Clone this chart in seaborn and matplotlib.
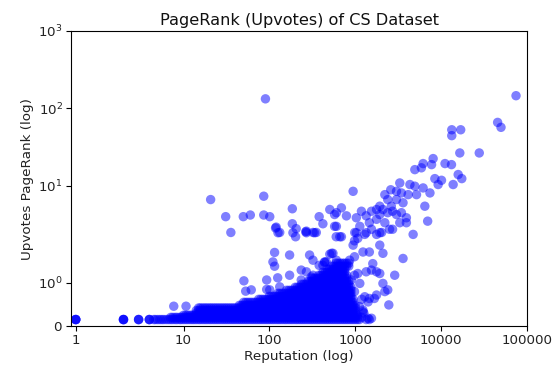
import matplotlib
matplotlib.use("Agg")
import matplotlib.pyplot as plt
import matplotlib.ticker as mticker
import seaborn as sns
import pandas as pd

# ---- data: scattered (readable) points ----
scatter_rep = [1, 1, 1, 1, 2, 2, 2, 2, 3, 3, 3, 4, 4, 4,
    90, 20.7, 86, 31, 49.7, 60, 86, 101, 35.6, 185, 120, 132, 185, 202, 205, 265, 322, 352,
    380, 505, 603, 690, 420, 575, 660, 118, 126, 188, 270, 336,
    115, 110, 172, 294, 115, 50.5, 53, 93, 125, 172, 235, 322, 420, 530, 460, 7.7, 10.7,
    93, 132, 235, 307, 505, 380, 440, 603, 61.5, 101,
    74500, 45500, 49800, 13300, 16900, 13300, 16500, 27800, 8070, 6170, 4940, 11100, 13200,
    7740, 5890, 15800, 17400, 13800, 10100, 9230, 8450, 4940, 4330, 6170, 7410, 5170, 6460,
    6970, 3300, 3450, 4130, 3020, 2590, 2210, 2390, 3020, 3600, 2630, 1930, 1545, 1930, 2390,
    3020, 3940, 3300, 1130, 987, 1070, 1340, 1460, 1290, 1770, 2030, 2210, 2510, 4720, 2720,
    944, 575, 603, 790, 690, 600, 270, 1030, 1180, 1770, 2100, 2720, 3450, 1545, 1770, 3940,
    440, 550, 860, 1070, 1230, 1545, 1930, 2880, 3600, 2390, 2460, 1460, 1290, 1545, 1410,
    1230, 1770, 900, 860, 980, 944, 270, 322,
    1030, 1340, 1930, 980, 1930, 2100, 1460, 1600, 1340, 1770, 2210, 1670, 1410, 1230,
    1460, 1340, 980, 1130, 980, 2100, 1190, 1260, 1120, 1190]
scatter_pr = [0.15, 0.15, 0.15, 0.15, 0.15, 0.15, 0.15, 0.15, 0.15, 0.15, 0.15, 0.15, 0.15, 0.15,
    133, 6.65, 7.35, 4.0, 4.0, 4.2, 4.2, 4.0, 2.5, 5.06, 2.93, 2.5, 3.24, 2.2, 2.8, 2.55, 2.5, 2.5,
    4.0, 4.95, 4.5, 5.2, 3.24, 3.0, 2.2, 2.85, 2.48, 2.48, 2.48, 2.48,
    1.71, 1.49, 1.65, 1.65, 1.39, 1.05, 0.81, 1.07, 1.12, 1.18, 1.3, 1.18, 1.41, 1.69, 1.49, 0.46, 0.46,
    0.85, 0.91, 1.07, 1.14, 1.67, 1.41, 1.48, 1.53, 0.84, 0.84,
    146, 66, 57, 53, 53, 44.5, 26.6, 26.6, 22.5, 19.4, 16.2, 19.4, 18.8,
    18.8, 17.1, 14, 12.4, 10.4, 11.8, 10.4, 12.4, 9.9, 10.4, 9.4, 8.1, 7.7, 5.46,
    3.5, 10.9, 8.1, 7.7, 8.5, 8.9, 7.7, 6.65, 6.65, 6.05, 5.46, 5.46, 4.7, 4.26, 4.5,
    4.26, 3.87, 3.34, 3.0, 2.5, 2.1, 4.1, 3.34, 2.36, 3.7, 2.5, 3.34, 2.75, 2.36, 2.75,
    8.5, 4.26, 3.0, 4.1, 2.2, 2.2, 2.6, 3.87, 4.7, 4.95, 4.95, 4.7, 4.5, 2.75, 2.36, 3.34,
    1.49, 1.69, 1.53, 1.22, 1.72, 1.3, 1.22, 1.18, 1.57, 0.84, 0.49, 0.64, 0.68, 0.18, 0.18,
    0.37, 0.72, 1.07, 0.76, 1.61, 1.88, 1.26, 1.53,
    2.48, 2.48, 2.48, 1.98, 1.88, 1.69, 1.72, 1.45, 1.26, 1.26, 0.8, 0.64, 0.56, 0.33,
    0.15, 0.15, 0.8, 0.99, 1.18, 0.99, 0.2, 0.3, 0.45, 0.62]

# ---- data: dense cluster, read as rows of PageRank level spanning a reputation range ----
cluster_rep = [4.5, 4.7, 5, 5.3, 5.6, 5.9, 6.3, 6.7, 7.1, 7.5, 8, 8.4, 9, 9.4, 10, 10.6, 11.2,
               11.9, 12.6, 13.3, 14.1, 15, 15.8, 16.8, 17.8, 18.8, 20, 21.1, 22.4, 23.7, 25.1,
               26.6, 28.2, 29.9, 31.6, 33.5, 35.5, 37.6, 39.8, 42.2, 44.7, 47.3, 50.1, 53.1,
               56.2, 59.6, 63.1, 66.8, 70.8, 75, 79.4, 84.1, 89.1, 94.4, 100, 106, 112, 119,
               126, 133, 141, 150, 158, 168, 178, 188, 200, 211, 224, 237, 251, 266, 282, 299,
               316, 335, 355, 376, 398, 422, 447, 473, 501, 531, 562, 596, 631, 668, 708, 750,
               794, 841, 891, 944, 1000, 1060, 1120]
cluster_level = [0.15, 0.20, 0.25, 0.30, 0.36, 0.42, 0.48, 0.55, 0.62, 0.69, 0.76,
                 0.83, 0.90, 0.97, 1.04, 1.11, 1.18, 1.25, 1.32, 1.39, 1.46]
cluster_rep_from = [4.5, 7.1, 10, 14.1, 14.1, 15, 44.7, 50.1, 75, 100, 126,
                    158, 200, 237, 282, 316, 376, 422, 473, 531, 596]
cluster_rep_to = [1120, 1060, 1060, 1000, 1000, 1000, 1000, 944, 944, 891, 891,
                  891, 891, 841, 841, 794, 794, 750, 750, 841, 841]

x_ticks = [1, 10, 100, 1000, 10000, 100000]
x_tick_labels = ["1", "10", "100", "1000", "10000", "100000"]

# ---- assemble ----
reps = list(scatter_rep)
prs = list(scatter_pr)
for lvl, lo, hi in zip(cluster_level, cluster_rep_from, cluster_rep_to):
    sel = [r for r in cluster_rep if lo <= r <= hi]
    reps += sel
    prs += [lvl] * len(sel)
df = pd.DataFrame({"Reputation": reps, "PageRank": prs})

fig = plt.figure(figsize=(5.56, 3.71), dpi=100)
ax = fig.add_axes([71 / 556, 45 / 371, 456 / 556, 295 / 371])
sns.scatterplot(data=df, x="Reputation", y="PageRank", ax=ax, color="blue", alpha=0.5,
                s=46, linewidth=0, edgecolor="none", legend=False)
ax.set_xscale("symlog")
ax.set_yscale("symlog")
ax.set_xlim(0.9, 100000)
ax.set_ylim(0, 1000)
ax.set_xticks(x_ticks)
ax.set_xticklabels(x_tick_labels)
ax.xaxis.set_minor_locator(mticker.NullLocator())
ax.yaxis.set_minor_locator(mticker.NullLocator())
ax.tick_params(labelsize=9.6, length=3.5, width=0.8, colors="black", pad=2.5)
ax.tick_params(labelcolor="#222222")
ax.set_title("PageRank (Upvotes) of CS Dataset", fontsize=11.6, pad=4.5, color="#111111")
ax.set_xlabel("Reputation (log)", fontsize=9.7, labelpad=2, color="#222222")
ax.set_ylabel("Upvotes PageRank (log)", fontsize=9.7, labelpad=3, color="#222222")
for sp in ax.spines.values():
    sp.set_color("black")
    sp.set_linewidth(0.8)
fig.savefig("out.png", dpi=100)
